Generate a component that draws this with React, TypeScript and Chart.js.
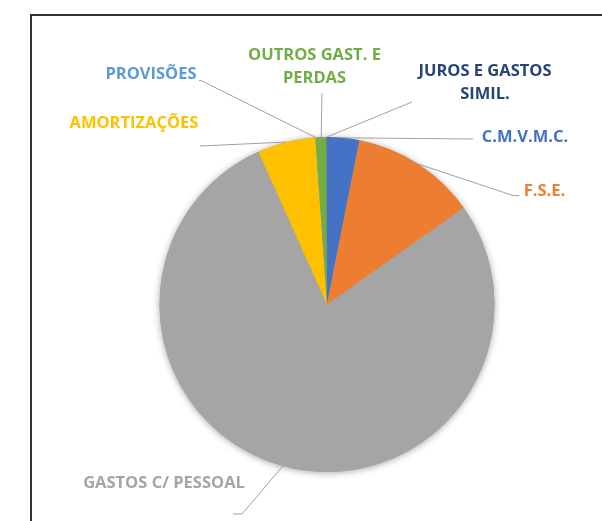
import React, { useEffect, useRef } from "react";
import { Chart, registerables } from "chart.js";

Chart.register(...registerables);

// ---- data ----
const categories = [
  "C.M.V.M.C.",
  "F.S.E.",
  "GASTOS C/ PESSOAL",
  "AMORTIZAÇÕES",
  "PROVISÕES",
  "OUTROS GAST. E PERDAS",
  "JUROS E GASTOS SIMIL.",
];
const values = [3.1, 12.1, 78.0, 5.6, 0.03, 1.05, 0.03];
const labelLines = [
  ["C.M.V.M.C."],
  ["F.S.E."],
  ["GASTOS C/ PESSOAL"],
  ["AMORTIZAÇÕES"],
  ["PROVISÕES"],
  ["OUTROS GAST. E", "PERDAS"],
  ["JUROS E GASTOS", "SIMIL."],
];
const sliceColors = ["#4472C4", "#ED7D31", "#A5A5A5", "#FFC000", "#5B9BD5", "#70AD47", "#264478"];

// ---- label layout (offsets from pie centre, in px) ----
const LABEL_LAYOUT = [
  { tx: 198, ty: -167.5, pts: [[146, -165.5]] },
  { tx: 217.5, ty: -113, pts: [[186, -109], [192, -109]] },
  { tx: -163, ty: 178.5, pts: [[-85, 209.5], [-94, 209.5]] },
  { tx: -193, ty: -181.5, pts: [[-127, -158.5]] },
  { tx: -176, ty: -230.5, pts: [[-125, -223.5], [-128, -224]] },
  { tx: -12.5, ty: -249, pts: [[-5, -211.5]] },
  { tx: 158, ty: -233, pts: [[85, -202.5]] },
];
const LINE_HEIGHT = 23;
const FONT = "700 16.5px 'Open Sans'";

const labelPlugin = {
  id: "outsideLabels",
  beforeDatasetsDraw(chart: any) {
    const meta = chart.getDatasetMeta(0);
    const a = meta.data[0];
    if (!a) return;
    const ctx = chart.ctx;
    ctx.save();
    ctx.beginPath();
    ctx.arc(a.x, a.y, a.outerRadius, 0, Math.PI * 2);
    ctx.fillStyle = "#A5A5A5";
    ctx.shadowColor = "rgba(0,0,0,0.35)";
    ctx.shadowBlur = 7;
    ctx.shadowOffsetY = 1;
    ctx.fill();
    ctx.restore();
  },
  afterDatasetsDraw(chart: any) {
    const meta = chart.getDatasetMeta(0);
    const ctx = chart.ctx;
    ctx.save();
    meta.data.forEach((arc: any, i: number) => {
      const lay = LABEL_LAYOUT[i];
      const cx = arc.x;
      const cy = arc.y;
      const mid = (arc.startAngle + arc.endAngle) / 2;
      const rx = cx + Math.cos(mid) * arc.outerRadius;
      const ry = cy + Math.sin(mid) * arc.outerRadius;
      ctx.beginPath();
      ctx.moveTo(rx, ry);
      lay.pts.forEach((p) => ctx.lineTo(cx + p[0], cy + p[1]));
      ctx.strokeStyle = "#A0A0A0";
      ctx.lineWidth = 1;
      ctx.stroke();
      ctx.fillStyle = sliceColors[i];
      ctx.font = FONT;
      ctx.textAlign = "center";
      ctx.textBaseline = "middle";
      labelLines[i].forEach((t, k) => {
        ctx.fillText(t, cx + lay.tx, cy + lay.ty + k * LINE_HEIGHT);
      });
    });
    ctx.restore();
  },
};

export default function App() {
  const ref = useRef<HTMLCanvasElement>(null);
  useEffect(() => {
    document.body.style.margin = "0";
    document.body.style.overflow = "hidden";
    const chart = new Chart(ref.current!, {
      type: "pie",
      data: {
        labels: categories,
        datasets: [
          {
            data: values,
            backgroundColor: sliceColors,
            borderWidth: 0,
            hoverOffset: 0,
            offset: 0,
          },
        ],
      },
      options: {
        responsive: false,
        animation: false,
        devicePixelRatio: 1,
        layout: { padding: { left: 159.5, right: 107.5, top: 137, bottom: 49 } },
        plugins: { legend: { display: false }, tooltip: { enabled: false } },
      },
      plugins: [labelPlugin],
    });
    return () => chart.destroy();
  }, []);
  return (
    <div style={{ position: "fixed", left: 0, top: 0, width: 602, height: 521, overflow: "hidden", background: "#fff" }}>
      <div
        style={{
          position: "absolute",
          left: 30,
          top: 14,
          width: 640,
          height: 560,
          border: "2px solid #333",
          boxSizing: "border-box",
        }}
      />
      <canvas ref={ref} width={602} height={521} style={{ position: "absolute", left: 0, top: 0 }} />
    </div>
  );
}
